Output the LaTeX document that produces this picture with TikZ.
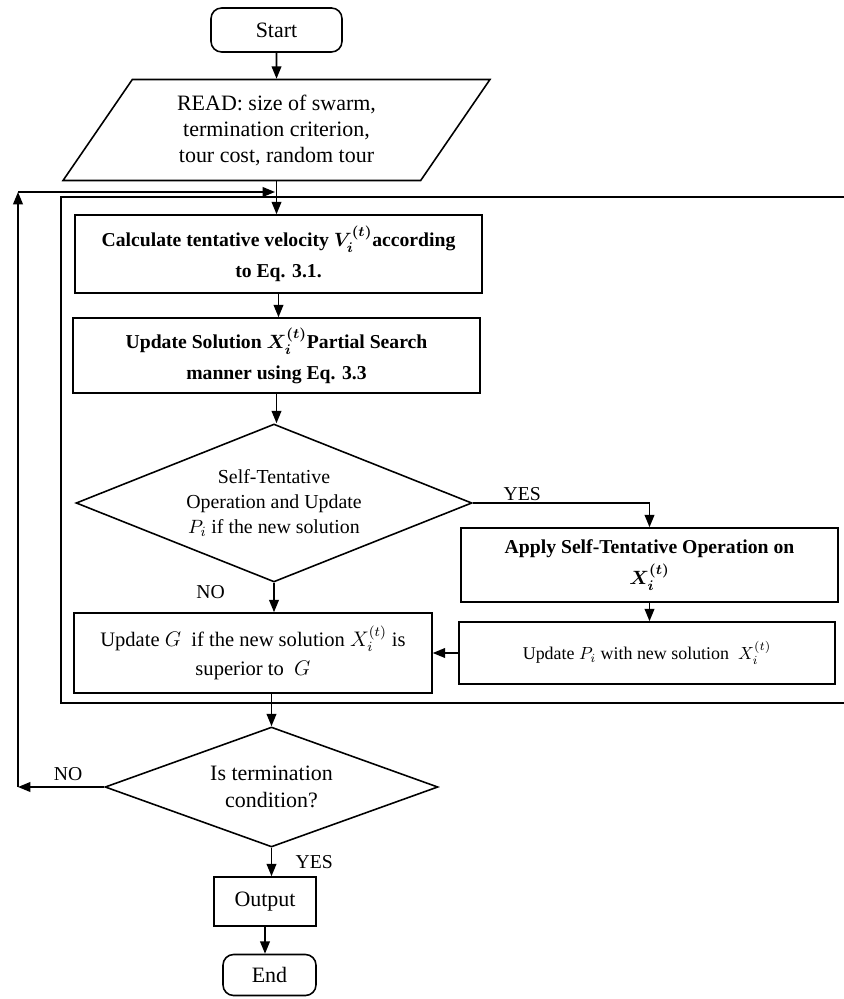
\documentclass[tikz,border=0pt]{standalone}
\usepackage{fontspec}
\setmainfont{Liberation Serif}
\usetikzlibrary{shapes.geometric}
\usetikzlibrary{positioning}
\usetikzlibrary{arrows.meta}
\tikzset{
    terminal/.style={
        draw,
        line width=0.9pt,
        rounded corners=6pt,
        font=\fontsize{12.5}{15}\selectfont},
    io/.style={
        draw,
        line width=0.9pt,
        trapezium,
        trapezium left angle=50,
        trapezium right angle=130,
        trapezium stretches body,
        align=center,
        font=\fontsize{12.5}{14.8}\selectfont},
    process/.style={
        draw,
        line width=0.9pt,
        align=center,
        font=\fontsize{11.6}{16}\selectfont},
    boldproc/.style={
        process,
        font=\fontsize{11.2}{17.5}\selectfont\bfseries\boldmath},
    decision/.style={
        draw,
        line width=0.9pt,
        diamond,
        inner sep=0pt,
        align=center},
    branch/.style={
        font=\fontsize{11.2}{13}\selectfont},
    flow/.style={
        draw,
        line width=0.9pt,
        -{Triangle[length=7pt,width=5.5pt]}}}

\begin{document}
\begin{tikzpicture}[x=0.02cm,y=-0.02cm]
        \useasboundingbox (0,0) rectangle (843,999);

        \node[terminal,minimum width=2.62cm,minimum height=0.88cm] (start) at (276.5,30) {Start};
        \node[io,minimum width=8.54cm,minimum height=2.02cm] (read) at (276.5,130)
            {READ: size of swarm,\\termination criterion,\\tour cost, random tour};

        %\node[] (loop) at (61,197) {};
        \node[boldproc,minimum width=8.14cm,minimum height=1.56cm] (calc) at (278.5,254)
            {Calculate tentative velocity $V_i^{(t)}$according\\to Eq. 3.1.};
        \node[boldproc,minimum width=8.14cm,minimum height=1.5cm] (solu) at (276.5,355.5)
            {Update Solution $X_i^{(t)}$Partial Search\\manner using Eq. 3.3};

        \node[decision,aspect=2.5,minimum width=7.92cm,minimum height=3.16cm,
            font=\fontsize{11.3}{14.2}\selectfont] (check) at (274,503)
            {Self-Tentative\\Operation and Update\\$P_i$ if the new solution};

        \node[boldproc,minimum width=7.54cm,minimum height=1.48cm] (apply) at (649.5,565)
            {Apply Self-Tentative Operation on\\$X_i^{(t)}$};
        \node[process,minimum width=7.52cm,minimum height=1.24cm,
            font=\fontsize{10.2}{12}\selectfont] (updp) at (647,653)
            {Update $P_i$ with new solution\ \ $X_i^{(t)}$};
        \node[process,minimum width=7.16cm,minimum height=1.6cm,
            font=\fontsize{11.7}{16.5}\selectfont] (updg) at (253,653)
            {Update $G$\ \ if the new solution $X_i^{(t)}$ is\\superior to\ \ $G$};

        \node[decision,aspect=2.8,minimum width=6.66cm,minimum height=2.4cm,
            font=\fontsize{12.5}{15}\selectfont] (term) at (271.5,787)
            {Is termination\\condition?};
        \node[process,minimum width=2.04cm,minimum height=0.98cm,
            font=\fontsize{12.5}{15}\selectfont] (output) at (265,901.5) {Output};
        \node[terminal,minimum width=1.86cm,minimum height=0.82cm] (end) at (269.5,975) {End};

        % loop frame
        \draw[line width=1.1pt] (845,197) -- (61,197) -- (61,703) -- (845,703);

        \coordinate (back) at (18,787);
        \coordinate (backtop) at (18,192);
        \coordinate (join) at (275,192);

        \draw[flow] (start) -- (read);
        \draw[flow] (read.south) -- (read.south |- calc.north);
        \draw[flow] (calc.south) -- (calc.south |- solu.north);
        \draw[flow] (solu.south) -- (solu.south |- check.north);
        \draw[flow] (check.east) -| node[branch,above,pos=0.14,inner sep=1pt] {YES} (apply.north);
        \draw[flow] (check.south) -- node[branch,left=0.85cm,pos=0.3] {NO} (check.south |- updg.north);
        \draw[flow] (apply.south) -- (apply.south |- updp.north);
        \draw[flow] (updp.west) -- (updg.east);
        \draw[flow] (term.north |- updg.south) -- (term.north);
        \draw[flow] (term.west) -- node[branch,above,pos=0.42] {NO} (back);
        \draw[flow] (back) -- (backtop);
        \draw[flow] (backtop) -- (join);
        \draw[flow] (term.south) -- node[branch,right=0.35cm] {YES} (term.south |- output.north);
        \draw[flow] (output.south) -- (output.south |- end.north);
    \end{tikzpicture}
\end{document}
